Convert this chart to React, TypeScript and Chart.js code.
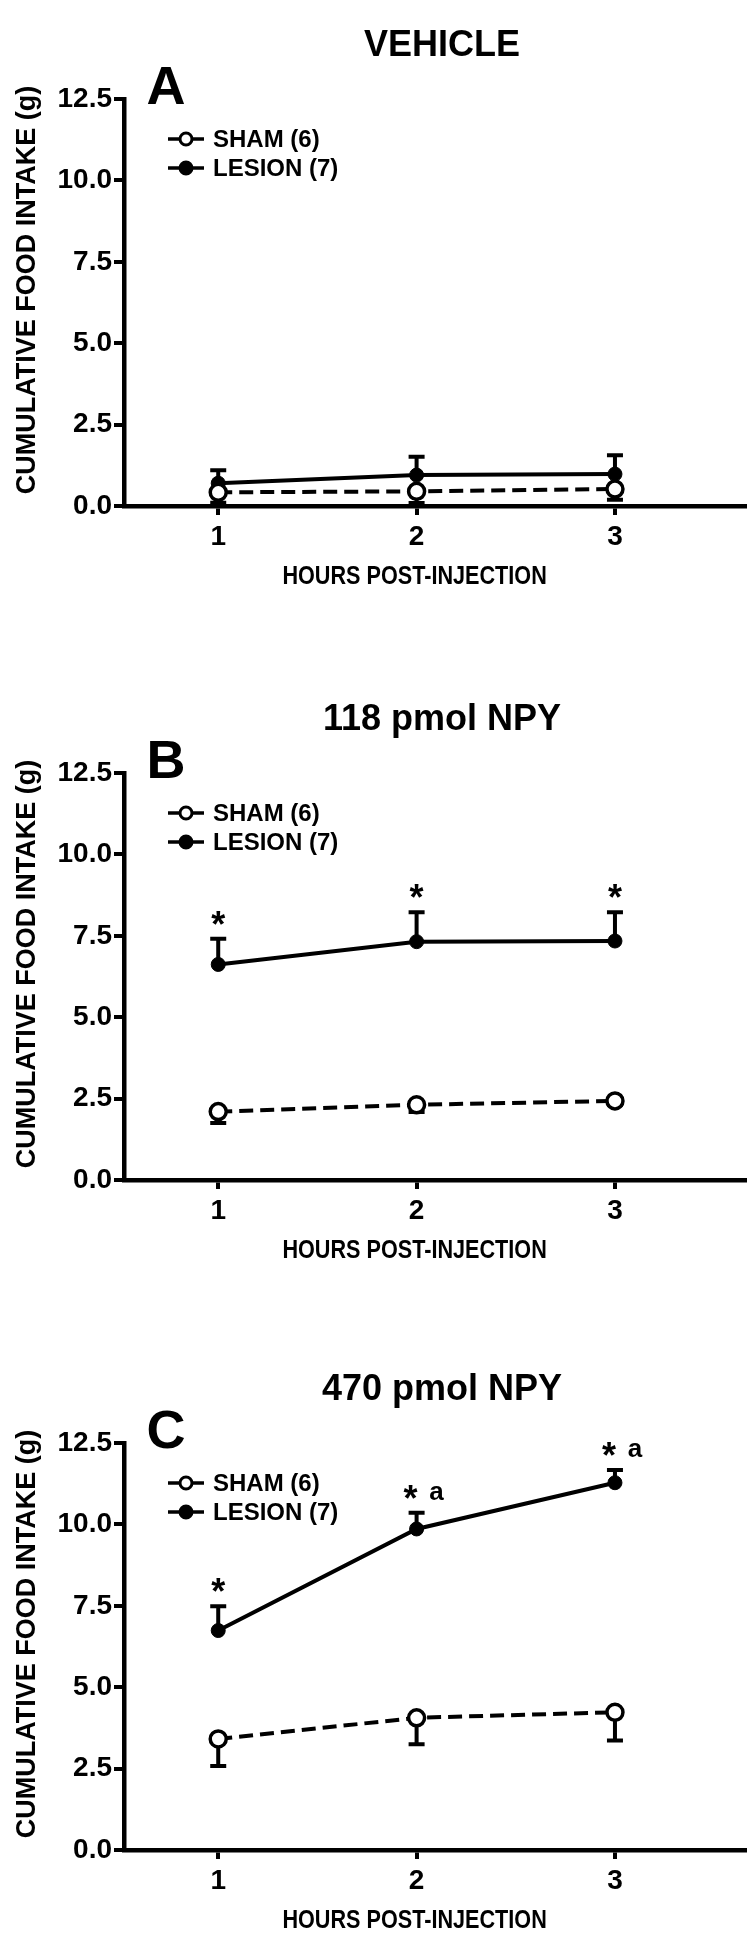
import React, { useEffect, useRef } from 'react';
import { Chart, registerables } from 'chart.js';

Chart.register(...registerables);

// ---------------- data ----------------
const HOURS = [1, 2, 3];
const Y_TICKS = [0, 2.5, 5, 7.5, 10, 12.5];
const SERIES_LABELS = ['SHAM (6)', 'LESION (7)'];
const PANEL_TITLES = ['VEHICLE', '118 pmol NPY', '470 pmol NPY'];
const PANEL_LETTERS = ['A', 'B', 'C'];
const X_TITLE = 'HOURS POST-INJECTION';
const Y_TITLE = 'CUMULATIVE FOOD INTAKE (g)';

// Panel A (vehicle)
const SHAM_A = [0.42, 0.45, 0.52];
const SHAM_A_SEM = [0.32, 0.36, 0.33];
const LESION_A = [0.7, 0.95, 0.98];
const LESION_A_SEM = [0.4, 0.56, 0.58];
const STARS_A = ['', '', ''];
const MARKS_A = ['', '', ''];

// Panel B (118 pmol NPY)
const SHAM_B = [2.1, 2.31, 2.43];
const SHAM_B_SEM = [0.35, 0.22, 0.12];
const LESION_B = [6.62, 7.32, 7.34];
const LESION_B_SEM = [0.79, 0.9, 0.88];
const STARS_B = ['*', '*', '*'];
const MARKS_B = ['', '', ''];

// Panel C (470 pmol NPY)
const SHAM_C = [3.41, 4.06, 4.23];
const SHAM_C_SEM = [0.83, 0.81, 0.87];
const LESION_C = [6.74, 9.86, 11.28];
const LESION_C_SEM = [0.75, 0.5, 0.39];
const STARS_C = ['*', '*', '*'];
const MARKS_C = ['', 'a', 'a'];

const FONT = '"Liberation Sans", Arial, Helvetica, sans-serif';

type PanelData = {
  title: string;
  letter: string;
  sham: number[];
  shamSem: number[];
  lesion: number[];
  lesionSem: number[];
  stars: string[];
  marks: string[];
};

const PANELS: PanelData[] = [
  { title: PANEL_TITLES[0], letter: PANEL_LETTERS[0], sham: SHAM_A, shamSem: SHAM_A_SEM, lesion: LESION_A, lesionSem: LESION_A_SEM, stars: STARS_A, marks: MARKS_A },
  { title: PANEL_TITLES[1], letter: PANEL_LETTERS[1], sham: SHAM_B, shamSem: SHAM_B_SEM, lesion: LESION_B, lesionSem: LESION_B_SEM, stars: STARS_B, marks: MARKS_B },
  { title: PANEL_TITLES[2], letter: PANEL_LETTERS[2], sham: SHAM_C, shamSem: SHAM_C_SEM, lesion: LESION_C, lesionSem: LESION_C_SEM, stars: STARS_C, marks: MARKS_C },
];

const PANEL_TOPS = [0, 674, 1344];
const CANVAS_W = 756;
const CANVAS_H = 600;

function Panel({ panel, top }: { panel: PanelData; top: number }) {
  const ref = useRef<HTMLCanvasElement | null>(null);

  useEffect(() => {
    const canvas = ref.current;
    if (!canvas) return;

    const errorBars = {
      id: 'errorBars',
      beforeDatasetsDraw(chart: any) {
        const { ctx, scales } = chart;
        const x = scales.x;
        const y = scales.y;
        ctx.save();
        ctx.strokeStyle = '#000';
        ctx.lineWidth = 4;
        ctx.lineCap = 'butt';
        const cap = 8;
        HOURS.forEach((h, i) => {
          const px = x.getPixelForValue(h);
          // sham: downward bars
          const s0 = y.getPixelForValue(panel.sham[i]);
          const s1 = y.getPixelForValue(panel.sham[i] - panel.shamSem[i]);
          ctx.beginPath();
          ctx.moveTo(px, s0);
          ctx.lineTo(px, s1);
          ctx.moveTo(px - cap, s1);
          ctx.lineTo(px + cap, s1);
          ctx.stroke();
          // lesion: upward bars
          const l0 = y.getPixelForValue(panel.lesion[i]);
          const l1 = y.getPixelForValue(panel.lesion[i] + panel.lesionSem[i]);
          ctx.beginPath();
          ctx.moveTo(px, l0);
          ctx.lineTo(px, l1);
          ctx.moveTo(px - cap, l1);
          ctx.lineTo(px + cap, l1);
          ctx.stroke();
        });
        ctx.restore();
      },
    };

    const annotations = {
      id: 'annotations',
      afterDraw(chart: any) {
        const { ctx, scales } = chart;
        const x = scales.x;
        const y = scales.y;
        ctx.save();
        ctx.fillStyle = '#000';
        ctx.strokeStyle = '#000';

        // panel title
        ctx.font = `bold 36px ${FONT}`;
        ctx.textAlign = 'center';
        ctx.textBaseline = 'middle';
        ctx.fillText(panel.title, 442, 46);

        // panel letter
        ctx.font = `bold 54px ${FONT}`;
        ctx.fillText(panel.letter, 166, 89);

        // y axis title
        ctx.save();
        ctx.translate(28, 290);
        ctx.rotate(-Math.PI / 2);
        ctx.font = `bold 27px ${FONT}`;
        ctx.textAlign = 'center';
        ctx.textBaseline = 'middle';
        ctx.fillText(Y_TITLE, 0, 0);
        ctx.restore();

        // x axis title (centred under the middle tick, slightly condensed)
        ctx.save();
        ctx.translate(x.getPixelForValue(HOURS[1]) - 2, 577);
        ctx.scale(0.865, 1);
        ctx.font = `bold 25px ${FONT}`;
        ctx.textAlign = 'center';
        ctx.textBaseline = 'middle';
        ctx.fillText(X_TITLE, 0, 0);
        ctx.restore();

        // legend
        const legendRows = [
          { label: SERIES_LABELS[0], y: 139, filled: false },
          { label: SERIES_LABELS[1], y: 168, filled: true },
        ];
        legendRows.forEach((row) => {
          ctx.lineWidth = 3.5;
          ctx.strokeStyle = '#000';
          ctx.beginPath();
          ctx.moveTo(168, row.y);
          ctx.lineTo(204, row.y);
          ctx.stroke();
          ctx.beginPath();
          ctx.arc(186, row.y, 6, 0, Math.PI * 2);
          ctx.fillStyle = row.filled ? '#000' : '#fff';
          ctx.fill();
          ctx.lineWidth = 3;
          ctx.stroke();
          ctx.fillStyle = '#000';
          ctx.font = `bold 24px ${FONT}`;
          ctx.textAlign = 'left';
          ctx.textBaseline = 'middle';
          ctx.fillText(row.label, 213, row.y + 1);
        });

        // significance markers above lesion error bars
        HOURS.forEach((h, i) => {
          const px = x.getPixelForValue(h);
          const topPx = y.getPixelForValue(panel.lesion[i] + panel.lesionSem[i]);
          const cy = topPx - 21;
          const hasMark = panel.marks[i] !== '';
          if (panel.stars[i]) {
            ctx.font = `bold 36px ${FONT}`;
            ctx.textAlign = 'center';
            ctx.textBaseline = 'alphabetic';
            ctx.fillText(panel.stars[i], hasMark ? px - 6 : px, cy + 19);
          }
          if (hasMark) {
            ctx.font = `bold 26px ${FONT}`;
            ctx.textAlign = 'center';
            ctx.textBaseline = 'alphabetic';
            ctx.fillText(panel.marks[i], px + 20, cy + 8);
          }
        });
        ctx.restore();
      },
    };

    const tickFont = { family: FONT, size: 28, weight: 'bold' as const };

    const chart = new Chart(canvas, {
      type: 'line',
      data: {
        datasets: [
          {
            label: SERIES_LABELS[0],
            data: HOURS.map((h, i) => ({ x: h, y: panel.sham[i] })),
            borderColor: '#000',
            borderWidth: 4,
            borderDash: [14, 7],
            pointRadius: 8,
            pointBorderWidth: 3.5,
            pointBackgroundColor: '#fff',
            pointBorderColor: '#000',
            fill: false,
            tension: 0,
          },
          {
            label: SERIES_LABELS[1],
            data: HOURS.map((h, i) => ({ x: h, y: panel.lesion[i] })),
            borderColor: '#000',
            borderWidth: 4,
            pointRadius: 7,
            pointBorderWidth: 1,
            pointBackgroundColor: '#000',
            pointBorderColor: '#000',
            fill: false,
            tension: 0,
          },
        ],
      },
      options: {
        animation: false,
        responsive: false,
        devicePixelRatio: 1,
        layout: { padding: { left: 0, top: 99, right: 0, bottom: 0 } },
        plugins: {
          legend: { display: false },
          tooltip: { enabled: false },
          title: { display: false },
        },
        scales: {
          x: {
            type: 'linear',
            min: 0.525,
            max: 3.653,
            afterBuildTicks: (s: any) => {
              s.ticks = HOURS.map((v) => ({ value: v }));
            },
            afterFit: (s: any) => {
              s.height = 94;
            },
            grid: { drawOnChartArea: false, color: '#000', lineWidth: 4, tickLength: 9 },
            border: { color: '#000', width: 4.5 },
            ticks: { color: '#000', font: tickFont, padding: 5, callback: (v: any) => String(v) },
            title: { display: false },
          },
          y: {
            type: 'linear',
            min: 0,
            max: 12.5,
            afterBuildTicks: (s: any) => {
              s.ticks = Y_TICKS.map((v) => ({ value: v }));
            },
            afterFit: (s: any) => {
              s.width = 124;
            },
            grid: { drawOnChartArea: false, color: '#000', lineWidth: 4, tickLength: 10 },
            border: { color: '#000', width: 4.5 },
            ticks: {
              color: '#000',
              font: tickFont,
              padding: 2,
              callback: (v: any) => Number(v).toFixed(1),
            },
            title: { display: false },
          },
        },
      },
      plugins: [errorBars, annotations],
    } as any);

    return () => {
      chart.destroy();
    };
  }, [panel]);

  return (
    <div style={{ position: 'absolute', left: 0, top, width: CANVAS_W, height: CANVAS_H }}>
      <canvas ref={ref} width={CANVAS_W} height={CANVAS_H} style={{ display: 'block', width: CANVAS_W, height: CANVAS_H }} />
    </div>
  );
}

export default function App() {
  return (
    <div style={{ position: 'absolute', left: 0, top: 0, width: 756, height: 1944, background: '#fff' }}>
      {PANELS.map((p, i) => (
        <Panel key={i} panel={p} top={PANEL_TOPS[i]} />
      ))}
    </div>
  );
}
